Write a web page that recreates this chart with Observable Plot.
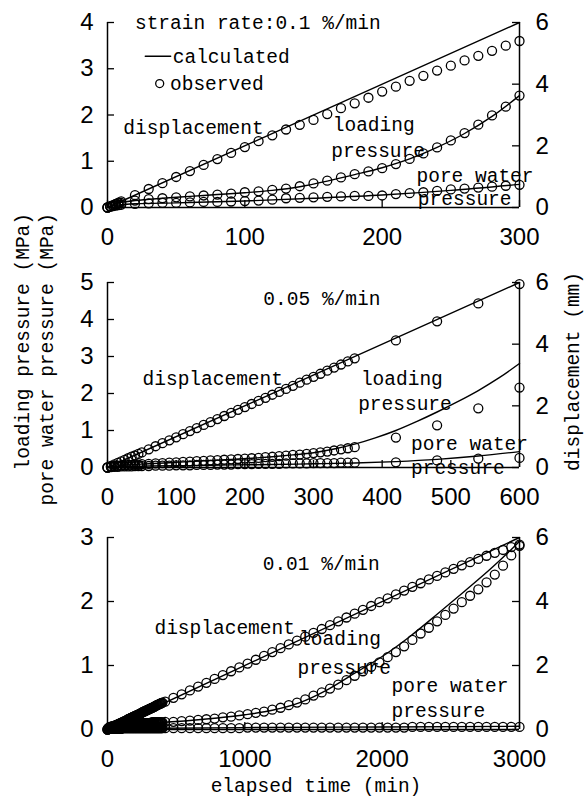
<!DOCTYPE html>
<html>
<head>
<meta charset="utf-8">
<script src="https://cdn.jsdelivr.net/npm/d3@7"></script>
<script src="https://cdn.jsdelivr.net/npm/@observablehq/plot@0.6"></script>
<style>
  body { margin: 0; background: #fff; }
  #fig { position: relative; width: 584px; height: 799px; overflow: hidden; background: #fff; }
  #fig svg { position: absolute; left: 0; overflow: visible; }
</style>
</head>
<body>
<div id="fig"></div>
<script>
// ---------- strain rate 0.1 %/min (0–300 min) ----------
const time01 = [0,2,4,6,8,10,20,30,40,50,60,70,80,90,100,110,120,130,140,150,160,170,180,190,200,210,220,230,240,250,260,270,280,290,300];
const disp01 = [0,0.03,0.07,0.12,0.16,0.2,0.4,0.6,0.79,0.99,1.18,1.38,1.57,1.77,1.96,2.15,2.34,2.53,2.68,2.84,3.03,3.22,3.38,3.56,3.76,3.92,4.11,4.27,4.44,4.6,4.77,4.92,5.08,5.25,5.4];
const load01 = [0,0.03,0.05,0.07,0.09,0.1,0.15,0.18,0.2,0.22,0.24,0.26,0.28,0.3,0.33,0.35,0.38,0.41,0.46,0.52,0.58,0.65,0.72,0.78,0.85,0.94,1.05,1.17,1.3,1.45,1.61,1.79,1.99,2.18,2.42];
const pore01 = [0,0.02,0.03,0.04,0.05,0.06,0.08,0.09,0.1,0.1,0.11,0.12,0.12,0.13,0.14,0.15,0.17,0.2,0.21,0.22,0.23,0.24,0.25,0.25,0.26,0.29,0.31,0.33,0.36,0.39,0.41,0.43,0.45,0.47,0.49];
const calcTimeLoad01 = [0,5,10,20,40,60,80,100,120,140,160,180,200,220,240,260,280,300];
const calcLoad01 = [0,0.07,0.11,0.15,0.2,0.24,0.28,0.32,0.37,0.45,0.57,0.71,0.86,1.05,1.3,1.6,1.97,2.42];
const calcTimePore01 = [0,5,10,20,50,100,150,200,250,300];
const calcPore01 = [0,0.04,0.06,0.08,0.1,0.14,0.2,0.27,0.37,0.5];
const calcTimeDisp01 = [0,300];
const calcDisp01 = [0,6];

// ---------- strain rate 0.05 %/min (0–600 min) ----------
const time005 = [0,5,10,15,20,25,30,35,40,45,50,60,70,80,90,100,110,120,130,140,150,160,170,180,190,200,210,220,230,240,250,260,270,280,290,300,310,320,330,340,350,360,420,480,540,600];
const disp005 = [0,0.05,0.1,0.15,0.2,0.25,0.3,0.35,0.39,0.44,0.49,0.59,0.69,0.79,0.88,0.98,1.08,1.18,1.28,1.38,1.47,1.57,1.67,1.77,1.87,1.96,2.06,2.16,2.26,2.36,2.45,2.55,2.65,2.75,2.85,2.94,3.04,3.14,3.24,3.34,3.44,3.54,4.12,4.74,5.32,5.95];
const load005 = [0,0.02,0.04,0.05,0.06,0.06,0.07,0.07,0.08,0.08,0.09,0.1,0.11,0.12,0.13,0.14,0.15,0.16,0.17,0.18,0.19,0.2,0.21,0.22,0.23,0.24,0.25,0.26,0.28,0.29,0.31,0.32,0.34,0.35,0.37,0.39,0.41,0.43,0.46,0.49,0.52,0.55,0.81,1.14,1.6,2.16];
const pore005 = [0,0.01,0.02,0.02,0.03,0.03,0.03,0.03,0.04,0.04,0.04,0.04,0.05,0.05,0.05,0.06,0.06,0.06,0.07,0.07,0.07,0.08,0.08,0.08,0.09,0.09,0.09,0.1,0.1,0.1,0.1,0.11,0.11,0.11,0.11,0.12,0.12,0.12,0.12,0.13,0.13,0.13,0.14,0.19,0.24,0.26];
const calcTimeLoad005 = [0,30,60,90,120,150,180,210,240,270,300,330,360,390,420,450,480,510,540,570,600];
const calcLoad005 = [0,0.07,0.1,0.13,0.16,0.19,0.22,0.25,0.29,0.34,0.4,0.5,0.63,0.8,1.0,1.24,1.5,1.78,2.08,2.42,2.81];
const calcTimePore005 = [0,60,120,180,240,300,360,420,480,540,600];
const calcPore005 = [0,0.04,0.05,0.07,0.08,0.1,0.12,0.16,0.22,0.31,0.43];
const calcTimeDisp005 = [0,600];
const calcDisp005 = [0,6];

// ---------- strain rate 0.01 %/min (0–3000 min) ----------
// dense readings every 5 min up to 400 min, then hourly
const time001 = [0,5,10,15,20,25,30,35,40,45,50,55,60,65,70,75,80,85,90,95,100,105,110,115,120,125,130,135,140,145,150,155,160,165,170,175,180,185,190,195,
  200,205,210,215,220,225,230,235,240,245,250,255,260,265,270,275,280,285,290,295,300,305,310,315,320,325,330,335,340,345,350,355,360,365,370,375,380,385,390,395,400,
  420,480,540,600,660,720,780,840,900,960,1020,1080,1140,1200,1260,1320,1380,1440,1500,1560,1620,1680,1740,1800,1860,1920,1980,2040,2100,2160,2220,2280,2340,2400,2460,2520,2580,2640,2700,2760,2820,2880,2940,3000];
const disp001 = [0,0.01,0.02,0.03,0.04,0.05,0.06,0.07,0.08,0.09,0.1,0.12,0.13,0.14,0.15,0.16,0.17,0.18,0.19,0.2,
  0.21,0.22,0.23,0.24,0.25,0.26,0.27,0.28,0.29,0.3,0.32,0.33,0.34,0.35,0.36,0.37,0.38,0.39,0.4,0.41,
  0.42,0.43,0.44,0.45,0.46,0.47,0.48,0.49,0.5,0.51,0.53,0.54,0.55,0.56,0.57,0.58,0.59,0.6,0.61,0.62,
  0.63,0.64,0.65,0.66,0.67,0.68,0.69,0.7,0.71,0.72,0.74,0.75,0.76,0.77,0.78,0.79,0.8,0.81,0.82,0.83,0.84,
  0.87,0.99,1.1,1.22,1.34,1.46,1.58,1.7,1.82,1.94,2.06,2.18,2.3,2.42,2.54,2.66,2.78,2.9,3.02,3.14,3.26,3.38,3.5,3.62,3.74,3.86,3.98,4.1,4.22,4.34,4.46,4.57,4.69,4.8,4.91,5.02,5.13,5.23,5.33,5.43,5.52,5.61,5.7,5.78];
const load001 = [0,0.02,0.03,0.03,0.04,0.04,0.05,0.05,0.05,0.05,0.06,0.06,0.06,0.06,0.06,0.06,0.07,0.07,0.07,0.07,
  0.07,0.07,0.07,0.07,0.08,0.08,0.08,0.08,0.08,0.08,0.08,0.08,0.08,0.08,0.09,0.09,0.09,0.09,0.09,0.09,
  0.09,0.09,0.09,0.09,0.09,0.09,0.1,0.1,0.1,0.1,0.1,0.1,0.1,0.1,0.1,0.1,0.1,0.1,0.1,0.1,
  0.1,0.1,0.1,0.1,0.11,0.11,0.11,0.11,0.11,0.11,0.11,0.11,0.11,0.11,0.11,0.11,0.11,0.11,0.11,0.11,0.11,
  0.12,0.12,0.13,0.14,0.15,0.16,0.17,0.19,0.2,0.22,0.24,0.26,0.28,0.31,0.34,0.38,0.42,0.47,0.53,0.58,0.64,0.7,0.77,0.84,0.91,0.98,1.05,1.13,1.21,1.3,1.4,1.5,1.59,1.69,1.79,1.89,1.99,2.09,2.19,2.3,2.42,2.56,2.72,2.87];
const pore001 = [0,0.01,0.01,0.01,0.01,0.01,0.01,0.01,0.01,0.01,0.01,0.01,0.01,0.01,0.01,0.01,0.01,0.01,0.01,0.01,
  0.01,0.02,0.02,0.02,0.02,0.02,0.02,0.02,0.02,0.02,0.02,0.02,0.02,0.02,0.02,0.02,0.02,0.02,0.02,0.02,
  0.02,0.02,0.02,0.02,0.02,0.02,0.02,0.02,0.02,0.02,0.02,0.02,0.02,0.02,0.02,0.02,0.02,0.02,0.02,0.02,
  0.02,0.02,0.02,0.02,0.02,0.02,0.02,0.02,0.02,0.02,0.02,0.02,0.02,0.02,0.02,0.02,0.02,0.02,0.02,0.02,0.02,
  0.02,0.02,0.02,0.02,0.02,0.02,0.02,0.02,0.02,0.02,0.03,0.03,0.03,0.03,0.03,0.03,0.03,0.03,0.03,0.03,0.03,0.03,0.03,0.03,0.03,0.03,0.03,0.03,0.03,0.03,0.04,0.04,0.04,0.04,0.04,0.04,0.04,0.04,0.04,0.04,0.04,0.04,0.04,0.04];
const calcTimeLoad001 = [0,200,400,600,800,1000,1200,1400,1600,1800,2000,2200,2400,2600,2800,2900,3000];
const calcLoad001 = [0,0.07,0.11,0.14,0.18,0.23,0.3,0.42,0.62,0.88,1.14,1.45,1.8,2.16,2.53,2.73,2.94];
const calcTimePore001 = [0,400,1000,2000,3000];
const calcPore001 = [0,0.02,0.03,0.04,0.05];
const calcTimeDisp001 = [0,3000];
const calcDisp001 = [0,6];

// ---------- axes ----------
const dispTicks = [0, 2, 4, 6];          // displacement (mm), right axis
const dispMax = 6;
const xTicks01 = [0, 100, 200, 300];
const xTicks005 = [0, 100, 200, 300, 400, 500, 600];
const xTicks001 = [0, 1000, 2000, 3000];
const yTicks01 = [0, 1, 2, 3, 4];
const yTicks005 = [0, 1, 2, 3, 4, 5];
const yTicks001 = [0, 1, 2, 3];

// ---------- text ----------
const MONO = "'Liberation Mono', 'DejaVu Sans Mono', monospace";
const NUM = "'Liberation Sans Narrow', 'Liberation Sans', Arial, sans-serif";
const W = 584, LEFT = 107, RIGHT = 65, TOP = 22;

function zipXY(ts, vs, k = 1) { return ts.map((t, i) => ({t, v: vs[i] * k})); }

function panel(cfg) {
  const {top, height, bottom, tMax, pMax, xTicks, yTicks, obs, calc, labels, legend} = cfg;
  const k = pMax / dispMax;                  // mm -> left-axis units
  const innerW = W - LEFT - RIGHT;
  const innerH = height - TOP - bottom;
  const line = {x: "t", y: "v", stroke: "black", strokeWidth: 1.4, curve: "monotone-x"};
  const dot = {x: "t", y: "v", r: 4.5, stroke: "black", strokeWidth: 1.3, fill: "none"};
  const marks = [
    Plot.ruleY([0], {stroke: "black", strokeWidth: 1.5}),
    Plot.ruleX([0], {stroke: "black", strokeWidth: 1.5}),
    Plot.ruleX([tMax], {stroke: "black", strokeWidth: 1.5}),
    Plot.tickY(yTicks, {y: d => d, insetRight: innerW - 7, stroke: "black", strokeWidth: 1.3}),
    Plot.tickY(dispTicks, {y: d => d * k, insetLeft: innerW - 7, stroke: "black", strokeWidth: 1.3}),
    Plot.tickX(xTicks, {x: d => d, insetTop: innerH - 7, stroke: "black", strokeWidth: 1.3}),
    Plot.axisY(yTicks, {anchor: "left", tickSize: 0, tickPadding: 14, label: null, tickFormat: d => String(d),
      fontSize: 24, fontFamily: NUM, fill: "black"}),
    Plot.axisY(dispTicks.map(d => d * k), {anchor: "right", tickSize: 0, tickPadding: 16, label: null,
      tickFormat: d => String(Math.round(d / k)), fontSize: 24, fontFamily: NUM, fill: "black"}),
    Plot.axisX(xTicks, {anchor: "bottom", tickSize: 0, tickPadding: 20, label: null, tickFormat: d => String(d),
      fontSize: 24, fontFamily: NUM, fill: "black"}),
    Plot.line(zipXY(calc.dispT, calc.disp, k), line),
    Plot.line(zipXY(calc.loadT, calc.load), line),
    Plot.line(zipXY(calc.poreT, calc.pore), line),
    Plot.dot(zipXY(obs.t, obs.disp, k), dot),
    Plot.dot(zipXY(obs.t, obs.load), dot),
    Plot.dot(zipXY(obs.t, obs.pore), dot),
    Plot.text(labels, {x: "x", y: "y", text: "text", textAnchor: "start", lineAnchor: "middle",
      fontSize: 19.5, fontFamily: MONO, fill: "black"})
  ];
  if (legend) {
    marks.push(
      Plot.line(legend.line, {x: "x", y: "y", stroke: "black", strokeWidth: 1.4}),
      Plot.dot([legend.dot], {x: "x", y: "y", r: 4, stroke: "black", strokeWidth: 1.3, fill: "none"})
    );
  }
  const svg = Plot.plot({
    width: W, height,
    marginLeft: LEFT, marginRight: RIGHT, marginTop: TOP, marginBottom: bottom,
    x: {domain: [0, tMax], axis: null},
    y: {domain: [0, pMax], axis: null},
    style: {background: "transparent", overflow: "visible"},
    marks
  });
  svg.style.top = top + "px";
  return svg;
}

const fig = document.getElementById("fig");

fig.appendChild(panel({
  top: 0, height: 255, bottom: 48, tMax: 300, pMax: 4, xTicks: xTicks01, yTicks: yTicks01,
  obs: {t: time01, disp: disp01, load: load01, pore: pore01},
  calc: {dispT: calcTimeDisp01, disp: calcDisp01, loadT: calcTimeLoad01, load: calcLoad01, poreT: calcTimePore01, pore: calcPore01},
  labels: [
    {x: 20, y: 4.0, text: "strain rate:0.1 %/min"},
    {x: 47.5, y: 3.27, text: "calculated"},
    {x: 45.5, y: 2.68, text: "observed"},
    {x: 11.5, y: 1.73, text: "displacement"},
    {x: 164, y: 1.8, text: "loading"},
    {x: 163, y: 1.22, text: "pressure"},
    {x: 225, y: 0.69, text: "pore water"},
    {x: 226, y: 0.18, text: "pressure"}
  ],
  legend: {line: [{x: 27.5, y: 3.27}, {x: 46, y: 3.27}], dot: {x: 38, y: 2.68}}
}));

fig.appendChild(panel({
  top: 260, height: 255, bottom: 48, tMax: 600, pMax: 5, xTicks: xTicks005, yTicks: yTicks005,
  obs: {t: time005, disp: disp005, load: load005, pore: pore005},
  calc: {dispT: calcTimeDisp005, disp: calcDisp005, loadT: calcTimeLoad005, load: calcLoad005, poreT: calcTimePore005, pore: calcPore005},
  labels: [
    {x: 227, y: 4.57, text: "0.05 %/min"},
    {x: 51, y: 2.41, text: "displacement"},
    {x: 369, y: 2.41, text: "loading"},
    {x: 365, y: 1.72, text: "pressure"},
    {x: 442, y: 0.63, text: "pore water"},
    {x: 442, y: 0.0, text: "pressure"}
  ]
}));

fig.appendChild(panel({
  top: 515, height: 262, bottom: 48, tMax: 3000, pMax: 3, xTicks: xTicks001, yTicks: yTicks001,
  obs: {t: time001, disp: disp001, load: load001, pore: pore001},
  calc: {dispT: calcTimeDisp001, disp: calcDisp001, loadT: calcTimeLoad001, load: calcLoad001, poreT: calcTimePore001, pore: calcPore001},
  labels: [
    {x: 1130, y: 2.59, text: "0.01 %/min"},
    {x: 342, y: 1.59, text: "displacement"},
    {x: 1395, y: 1.42, text: "loading"},
    {x: 1383, y: 0.97, text: "pressure"},
    {x: 2068, y: 0.69, text: "pore water"},
    {x: 2068, y: 0.3, text: "pressure"}
  ]
}));

// Shared axis titles
const titles = d3.create("svg").attr("width", W).attr("height", 799).style("top", "0px")
  .attr("font-family", MONO).attr("font-size", 19.5).attr("fill", "black");
titles.append("text").attr("transform", "translate(22,213) rotate(-90)")
  .attr("text-anchor", "end").attr("dy", "0.35em").text("loading pressure (MPa)");
titles.append("text").attr("transform", "translate(46,213) rotate(-90)")
  .attr("text-anchor", "end").attr("dy", "0.35em").text("pore water pressure (MPa)");
titles.append("text").attr("transform", "translate(572,272) rotate(-90)")
  .attr("text-anchor", "end").attr("dy", "0.35em").text("displacement (mm)");
titles.append("text").attr("x", 316).attr("y", 785).attr("text-anchor", "middle")
  .attr("dy", "0.35em").text("elapsed time (min)");
fig.appendChild(titles.node());
</script>
</body>
</html>
